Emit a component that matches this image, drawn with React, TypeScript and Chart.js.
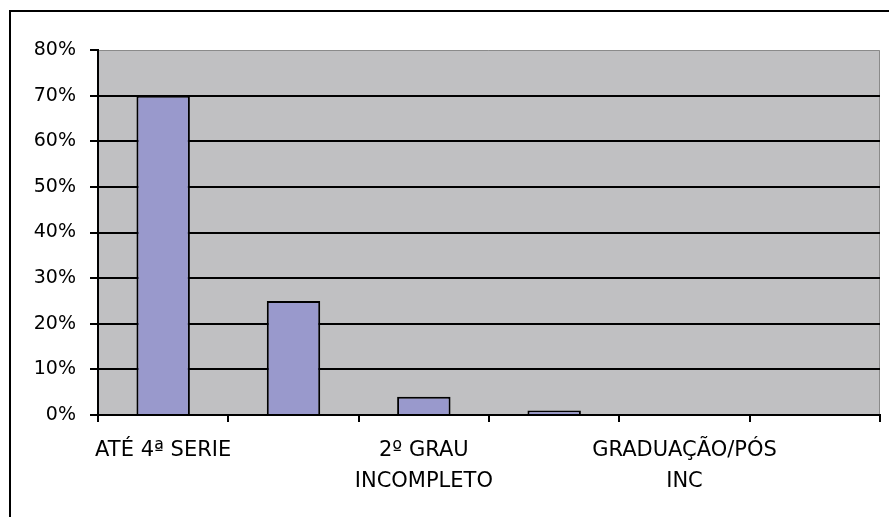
import React, { useEffect, useRef } from "react";
import { Chart, registerables } from "chart.js";

Chart.register(...registerables);

const categories: (string | string[])[] = [
  "ATÉ 4ª SERIE",
  "",
  ["2º GRAU", "INCOMPLETO"],
  "",
  ["GRADUAÇÃO/PÓS", "INC"],
  "",
];
const values = [70, 25, 4, 1, 0, 0];
const yTicks = [0, 10, 20, 30, 40, 50, 60, 70, 80];

const framePlugin = {
  id: "frame",
  beforeDraw(chart: any) {
    const { ctx, chartArea, width, height } = chart;
    ctx.save();
    ctx.fillStyle = "#ffffff";
    ctx.fillRect(0, 0, width, height);
    ctx.strokeStyle = "#000";
    ctx.lineWidth = 2;
    ctx.strokeRect(10, 11, width + 20, height + 20);
    ctx.fillStyle = "#c0c0c2";
    ctx.fillRect(chartArea.left, chartArea.top, chartArea.right - chartArea.left, chartArea.bottom - chartArea.top);
    ctx.strokeStyle = "#8a8a8a";
    ctx.lineWidth = 1;
    ctx.beginPath();
    ctx.moveTo(chartArea.left, chartArea.top + 0.5);
    ctx.lineTo(chartArea.right - 0.5, chartArea.top + 0.5);
    ctx.lineTo(chartArea.right - 0.5, chartArea.bottom);
    ctx.stroke();
    ctx.restore();
  },
};

export default function App() {
  const ref = useRef<HTMLCanvasElement>(null);
  useEffect(() => {
    document.body.style.margin = "0";
    const chart = new Chart(ref.current!, {
      type: "bar",
      data: {
        labels: categories,
        datasets: [
          {
            data: values,
            backgroundColor: "#9999cc",
            borderColor: "#000",
            borderWidth: 2,
            barPercentage: 0.41,
            categoryPercentage: 1,
          },
        ],
      },
      options: {
        animation: false,
        responsive: false,
        events: [],
        layout: { padding: { top: 50, right: 9, left: 0, bottom: 0 } },
        plugins: { legend: { display: false }, tooltip: { enabled: false } },
        scales: {
          x: {
            afterFit: (s: any) => {
              s.height = 102;
            },
            grid: {
              offset: true,
              drawOnChartArea: false,
              drawTicks: true,
              tickLength: 7,
              color: "#000",
              lineWidth: 2,
            },
            border: { color: "#000", width: 2 },
            ticks: {
              autoSkip: false,
              maxRotation: 0,
              padding: 13,
              color: "#000",
              font: { family: "DejaVu Sans", size: 21, lineHeight: 1.48 },
            },
          },
          y: {
            min: 0,
            max: 80,
            afterFit: (s: any) => {
              s.width = 98;
            },
            afterBuildTicks: (s: any) => {
              s.ticks = yTicks.map((v) => ({ value: v }));
            },
            grid: {
              color: (c: any) => (c.tick && c.tick.value === 80 ? "rgba(0,0,0,0)" : "#000"),
              tickColor: "#000",
              lineWidth: 2,
              tickLength: 8,
            },
            border: { color: "#000", width: 2 },
            ticks: {
              padding: 14,
              color: "#000",
              font: { family: "DejaVu Sans", size: 19 },
              callback: (v: any) => v + "%",
            },
          },
        },
      },
      plugins: [framePlugin],
    });
    return () => chart.destroy();
  }, []);
  return (
    <div style={{ width: 889, height: 517 }}>
      <canvas ref={ref} width={889} height={517} />
    </div>
  );
}
